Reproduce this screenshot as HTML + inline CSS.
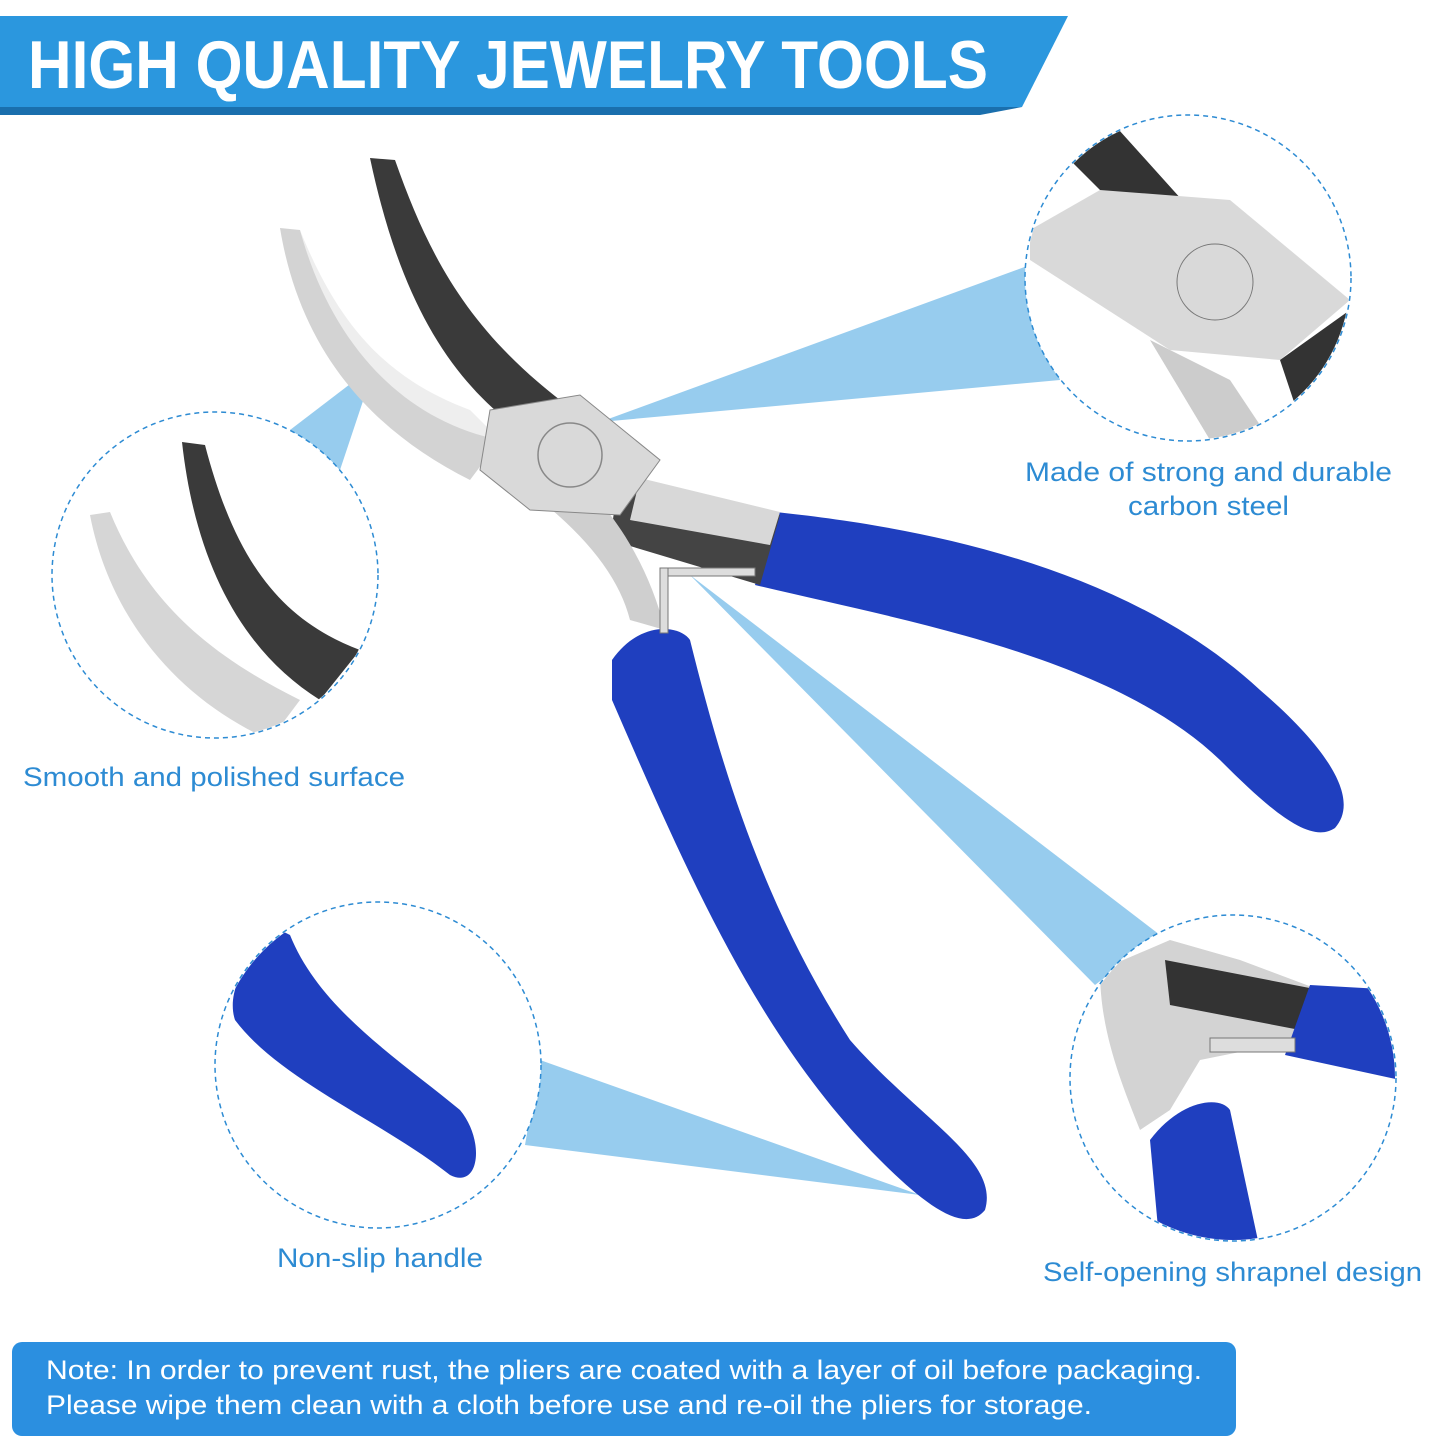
<!DOCTYPE html>
<html><head><meta charset="utf-8"><style>
html,body{margin:0;padding:0;background:#fff;width:1445px;height:1445px;overflow:hidden}
svg{display:block}
.lbl{font-family:"Liberation Sans",sans-serif;font-size:27px;fill:#2d8bd3}
</style></head><body>
<svg width="1445" height="1445" viewBox="0 0 1445 1445">
<!-- header -->
<polygon points="0,16 1068,16 1022,107 0,107" fill="#2b97de"/>
<polygon points="0,107 1022,107 980,115 0,115" fill="#1a6fad"/>
<text x="28" y="88" textLength="960" lengthAdjust="spacingAndGlyphs" font-family="Liberation Sans,sans-serif" font-weight="bold" font-size="68" fill="#fff">HIGH QUALITY JEWELRY TOOLS</text>

<!-- callout triangles -->
<g fill="#8cc6ec" opacity="0.9">
<polygon points="290,430 375,365 340,470"/>
<polygon points="600,422 1030,265 1060,380"/>
<polygon points="690,575 1160,935 1095,985"/>
<polygon points="540,1060 920,1195 525,1145"/>
</g>

<!-- pliers -->
<g>
<path d="M775,512 C900,525 1120,560 1260,690 C1330,750 1360,800 1335,828 C1310,845 1270,810 1220,760 C1110,655 900,620 755,585 Z" fill="#1f3fbf"/>
<path d="M612,660 C640,620 680,625 690,640 C720,760 760,900 850,1040 C920,1120 1000,1160 985,1210 C965,1235 925,1205 880,1160 C760,1040 690,880 612,700 Z" fill="#1f3fbf"/>
<path d="M620,470 C680,500 730,500 780,515 L760,585 C710,570 660,555 610,540 Z" fill="#444"/>
<path d="M540,500 C590,540 620,580 630,620 L665,630 C650,570 620,520 580,480 Z" fill="#cfcfcf"/>
<path d="M640,478 L780,512 L770,545 L630,520 Z" fill="#d8d8d8"/>
<rect x="665" y="568" width="90" height="8" fill="#ddd" stroke="#777"/>
<rect x="660" y="568" width="8" height="65" fill="#ddd" stroke="#777"/>
<path d="M370,158 L395,160 C430,260 470,330 560,400 L520,430 C450,380 400,300 370,158 Z" fill="#3a3a3a"/>
<path d="M280,228 L300,230 C330,330 400,400 500,440 L470,480 C370,430 300,350 280,228 Z" fill="#d3d3d3"/>
<path d="M300,230 C340,330 390,380 470,410 L500,440 C400,420 330,340 300,230 Z" fill="#eee"/>
<path d="M490,410 L580,395 L660,460 L620,515 L530,510 L480,470 Z" fill="#d9d9d9" stroke="#888" stroke-width="1"/>
<circle cx="570" cy="455" r="32" fill="none" stroke="#888" stroke-width="1.5"/>
</g>

<!-- circles -->
<g fill="#fff" stroke="#2d8bd3" stroke-width="1.5" stroke-dasharray="5,4">
<circle cx="215" cy="575" r="163"/>
<circle cx="1188" cy="278" r="163"/>
<circle cx="378" cy="1065" r="163"/>
<circle cx="1233" cy="1078" r="163"/>
</g>
<defs>
<clipPath id="c1"><circle cx="215" cy="575" r="162"/></clipPath>
<clipPath id="c2"><circle cx="1188" cy="278" r="162"/></clipPath>
<clipPath id="c3"><circle cx="378" cy="1065" r="162"/></clipPath>
<clipPath id="c4"><circle cx="1233" cy="1078" r="162"/></clipPath>
</defs>
<g clip-path="url(#c1)">
<path d="M182,442 L205,445 C235,560 280,620 360,650 L320,700 C240,650 195,560 182,442 Z" fill="#3a3a3a"/>
<path d="M90,515 L110,512 C150,610 220,660 300,700 L270,740 C180,700 110,620 90,515 Z" fill="#d6d6d6"/>
</g>
<g clip-path="url(#c2)">
<path d="M1030,120 L1110,120 L1200,220 L1160,250 Z" fill="#333"/>
<path d="M1030,230 L1100,190 L1230,200 L1350,300 L1280,360 L1170,350 L1030,260 Z" fill="#d9d9d9"/>
<circle cx="1215" cy="282" r="38" fill="none" stroke="#777"/>
<path d="M1280,360 L1350,310 L1350,420 L1300,420 Z" fill="#333"/>
<path d="M1150,340 L1230,380 L1270,440 L1210,440 Z" fill="#ccc"/>
</g>
<g clip-path="url(#c3)">
<path d="M280,930 C250,950 225,990 235,1020 C280,1080 380,1120 450,1175 C480,1190 485,1140 460,1110 C400,1060 320,1010 290,935 Z" fill="#1f3fbf"/>
</g>
<g clip-path="url(#c4)">
<path d="M1100,970 L1170,940 L1240,960 L1320,990 L1300,1040 L1200,1060 L1170,1110 L1140,1130 C1120,1080 1100,1030 1100,970 Z" fill="#d3d3d3"/>
<path d="M1165,960 L1320,990 L1300,1030 L1170,1005 Z" fill="#333"/>
<path d="M1310,985 L1400,990 L1400,1080 L1285,1055 Z" fill="#1f3fbf"/>
<rect x="1210" y="1038" width="85" height="14" fill="#ddd" stroke="#777"/>
<path d="M1150,1140 C1180,1100 1220,1095 1230,1110 L1260,1250 L1160,1250 Z" fill="#1f3fbf"/>
</g>

<!-- labels -->
<text class="lbl" x="23" y="786" textLength="382" lengthAdjust="spacingAndGlyphs">Smooth and polished surface</text>
<text class="lbl" x="1025" y="481" textLength="367" lengthAdjust="spacingAndGlyphs">Made of strong and durable</text>
<text class="lbl" x="1128" y="515" textLength="161" lengthAdjust="spacingAndGlyphs">carbon steel</text>
<text class="lbl" x="277" y="1267" textLength="206" lengthAdjust="spacingAndGlyphs">Non-slip handle</text>
<text class="lbl" x="1043" y="1281" textLength="379" lengthAdjust="spacingAndGlyphs">Self-opening shrapnel design</text>

<!-- note -->
<rect x="12" y="1342" width="1224" height="94" rx="10" fill="#2b8fe0"/>
<text x="46" y="1379" font-family="Liberation Sans,sans-serif" font-size="27" fill="#fff" textLength="1156" lengthAdjust="spacingAndGlyphs">Note: In order to prevent rust, the pliers are coated with a layer of oil before packaging.</text>
<text x="46" y="1414" font-family="Liberation Sans,sans-serif" font-size="27" fill="#fff" textLength="1046" lengthAdjust="spacingAndGlyphs">Please wipe them clean with a cloth before use and re-oil the pliers for storage.</text>
</svg>
</body></html>
